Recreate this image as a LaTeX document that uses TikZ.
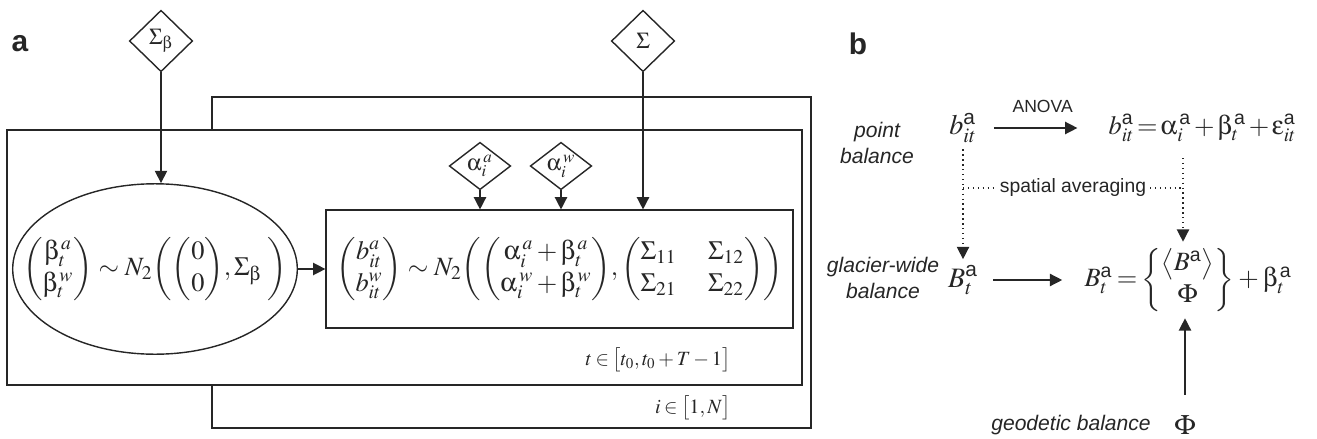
\documentclass[tikz,border=0pt]{standalone}
\usepackage{amsmath}
\usepackage{mathptmx}
\usepackage[Symbol]{upgreek}
\usepackage[no-math]{fontspec}
\newfontfamily\sffont{Liberation Sans}
\usepackage{tikz}
\usetikzlibrary{
    shapes.geometric,
    arrows.meta
}
\newcommand{\sa}{\text{\sffont a}}
\tikzset{
    >={Triangle[length=7pt,width=7pt]},
    param/.style={
        draw,
        diamond,
        aspect=1,
        inner sep=0pt,
        minimum width=36pt,
        minimum height=35pt,
        font=\fontsize{13}{15}\selectfont
    },
    obs/.style={
        param,
        aspect=1.3,
        minimum width=35pt,
        minimum height=27pt
    },
    formula/.style={
        font=\fontsize{15}{18}\selectfont
    },
    bformula/.style={
        font=\fontsize{16}{19}\selectfont
    },
    platelabel/.style={
        anchor=east,
        font=\fontsize{11.5}{14}\selectfont
    },
    balance/.style={
        align=center,
        font=\sffont\itshape\fontsize{12}{14.5}\selectfont
    },
    panel/.style={
        font=\sffont\bfseries\fontsize{17}{20}\selectfont
    }
}

\begin{document}
\begin{tikzpicture}[
    x=0.02cm,
    y=-0.02cm,
    line width=0.8pt,
    color=black!85
]
    \useasboundingbox (0,0) rectangle (1317,439);

    % Placas
    \draw (7,130) rectangle (802,385);
    \draw (212,130) |- (811,97) |- (212,428) -- (212,385);
    \node[platelabel] (tplate) at (737,360) {$\thickmuskip=3mu t\in\bigl[t_0,t_0+T-1\bigr]$};
    \node[platelabel] (iplate) at (737,408) {$\thickmuskip=3mu i\in\bigl[1,N\bigr]$};

    % Modelo (a)
    \node[panel] (la) at (20,44) {a};
    \node[param] (sigb) at (161,41)  {$\Sigma_\upbeta$};
    \node[param] (sig)  at (643,41)  {$\Sigma$};
    \node[obs]   (alfa) at (480,166) {$\upalpha_i^{\,a}$};
    \node[obs]   (alfw) at (561,166) {$\upalpha_i^{\,w}$};
    \node[draw, ellipse, minimum width=162pt, minimum height=97pt] (ell) at (155,269) {};
    \node[formula] (ellf) at (ell.center)
        {$\begin{pmatrix}\upbeta_t^{\,a}\\ \upbeta_t^{\,w}\end{pmatrix}\sim N_2\!\left(\begin{pmatrix}0\\ 0\end{pmatrix}\!,\Sigma_\upbeta\;\right)$};
    \node[draw, formula, minimum width=265.7pt, minimum height=67pt] (box) at (559.5,269)
        {$\arraycolsep=9pt\begin{pmatrix}b_{it}^{a}\\ b_{it}^{w}\end{pmatrix}\sim N_2\!\left(\begin{pmatrix}\upalpha_i^{\,a}+\upbeta_t^{\,a}\\ \upalpha_i^{\,w}+\upbeta_t^{\,w}\end{pmatrix}\!,\begin{pmatrix}\Sigma_{11} & \Sigma_{12}\\ \Sigma_{21} & \Sigma_{22}\end{pmatrix}\right)$};

    \draw[->] (sigb) -- (sigb |- ell.north);
    \draw[->] (sig)  -- (sig |- box.north);
    \draw[->] (alfa) -- (alfa |- box.north);
    \draw[->] (alfw) -- (alfw |- box.north);
    \draw[->] (ell) -- (box);

    % Balances (b)
    \node[panel] (lb) at (858,44) {b};
    \node[balance] (pbal) at (877,143) {point\\balance};
    \node[bformula] (bit)  at (963,128) {$b_{it}^{\sa}$};
    \node[formula, anchor=west] (eqa) at (1102,128)
        {$\medmuskip=2mu\thickmuskip=2mu b_{it}^{\sa}=\upalpha_i^{\,\sa}+\upbeta_t^{\,\sa}+\upepsilon_{it}^{\sa}$};
    \node[balance] (gbal) at (883,278) {glacier-wide\\balance};
    \node[bformula] (Bt)   at (963,280) {$B_t^{\sa}$};
    \node[formula, anchor=west] (beq) at (1078,280)
        {$\medmuskip=3mu\thickmuskip=3mu B_t^{\sa}=\left\{\begin{matrix}\bigl\langle B^{\sa}\bigr\rangle\\ \Phi\end{matrix}\right\}+\upbeta_t^{\,\sa}$};
    \node[balance] (geo)  at (1071,425) {geodetic balance};
    \node[bformula] (phi)  at (1185,425) {$\Phi$};

    \coordinate (jl) at (963,188);
    \coordinate (jr) at (1183,188);
    \coordinate (avtop) at (1183,158);

    \draw[->, shorten <=6pt, shorten >=14pt] (bit) -- node[above=5pt, font=\sffont\fontsize{10}{12}\selectfont] {ANOVA} (bit -| eqa.west);
    \draw[->, dotted] (bit) -- (Bt);
    \draw[->, dotted] (avtop) -- (avtop |- beq.north);
    \draw[dotted] (jl) -- node[fill=white, inner sep=2pt, font=\sffont\fontsize{11}{13}\selectfont] {spatial averaging} (jr);
    \draw[->, shorten <=5pt, shorten >=9pt] (Bt) -- (Bt -| beq.west);
    \draw[->, shorten <=8pt] (phi) -- (phi |- beq.south);

\end{tikzpicture}
\end{document}
